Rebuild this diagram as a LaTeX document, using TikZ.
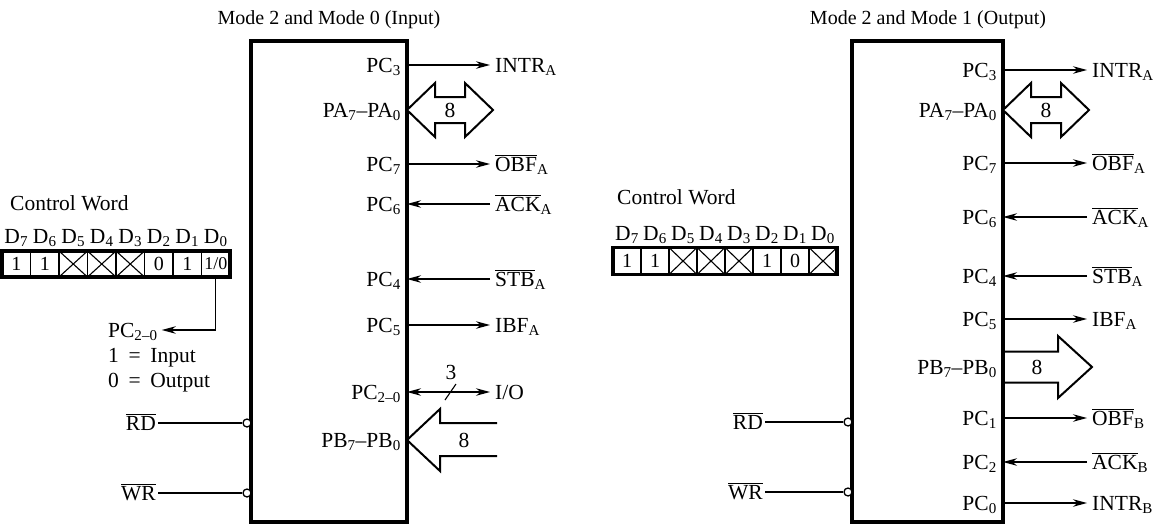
\documentclass[tikz,border=0pt]{standalone}
\usepackage{fontspec}
\setmainfont{Liberation Serif}
\usetikzlibrary{arrows.meta}
\newcommand{\ovl}[1]{$\overline{\mbox{#1}}$}
\newcommand{\sbs}[1]{\textsubscript{#1}}
\begin{document}
\begin{tikzpicture}[x=1pt,y=-1pt,
  every node/.style={font=\fontsize{21.5}{24}\selectfont, inner sep=2pt},
  titlefont/.style={font=\fontsize{20}{24}\selectfont},
  chip/.style={draw, line width=3.4pt, inner sep=0pt, outer sep=0pt},
  pin/.style={anchor=base east},
  ext/.style={anchor=base west, inner xsep=5pt},
  sig/.style={line width=1.1pt, -{Stealth[length=14pt,width=7.5pt]}},
  sigboth/.style={line width=1.1pt, {Stealth[length=14pt,width=7.5pt]}-{Stealth[length=14pt,width=7.5pt]}},
  wire/.style={line width=1.1pt},
  bus/.style={line width=2pt, fill=white, line join=miter},
  bub/.style={circle, draw, line width=1.3pt, fill=white, inner sep=0pt, minimum size=8pt},
  cellbox/.style={draw, line width=1.1pt, inner sep=0pt, outer sep=0pt},
  regframe/.style={line width=3.4pt},
  digit/.style={font=\fontsize{20}{22}\selectfont}
]
\useasboundingbox (0,0) rectangle (1167,525);

% ================= LEFT: Mode 2 and Mode 0 (Input) =================
\node[titlefont] (titleL) at (329,20) {Mode 2 and Mode 0 (Input)};
\node[chip, minimum width=156pt, minimum height=481pt] (chipL) at (329,281.5) {};

% PC3 -> INTR_A
\coordinate (Lp3) at (407,65);
\node[pin] (Lpc3) at (403,72) {PC\sbs{3}};
\node[ext] (Lintr) at (490,72) {INTR\sbs{A}};
\draw[sig] (Lp3) -- (Lp3 -| Lintr.west);

% PA bus
\node[pin] (Lpa) at (403,117) {PA\sbs{7}--PA\sbs{0}};
\draw[bus] (407,110) -- (435,83) -- (435,97) -- (465,97) -- (465,83) -- (493,110)
  -- (465,137) -- (465,123) -- (435,123) -- (435,137) -- cycle;
\node (Lpa8) at (450,110) {8};

% PC7 -> OBF_A
\coordinate (Lp7) at (407,164);
\node[pin] (Lpc7) at (403,171) {PC\sbs{7}};
\node[ext] (Lobf) at (490,171) {\ovl{OBF}\sbs{A}};
\draw[sig] (Lp7) -- (Lp7 -| Lobf.west);

% PC6 <- ACK_A
\coordinate (Lp6) at (407,204);
\node[pin] (Lpc6) at (403,211) {PC\sbs{6}};
\node[ext] (Lack) at (490,211) {\ovl{ACK}\sbs{A}};
\draw[sig] (Lp6 -| Lack.west) -- (Lp6);

% PC4 <- STB_A
\coordinate (Lp4) at (407,279);
\node[pin] (Lpc4) at (403,286) {PC\sbs{4}};
\node[ext] (Lstb) at (490,286) {\ovl{STB}\sbs{A}};
\draw[sig] (Lp4 -| Lstb.west) -- (Lp4);

% PC5 -> IBF_A
\coordinate (Lp5) at (407,325);
\node[pin] (Lpc5) at (403,332) {PC\sbs{5}};
\node[ext] (Libf) at (490,332) {IBF\sbs{A}};
\draw[sig] (Lp5) -- (Lp5 -| Libf.west);

% PC2-0 <-> I/O
\coordinate (Lp20) at (407,392);
\node[pin] (Lpc20) at (403,399) {PC\sbs{2--0}};
\node[ext] (Lio) at (490,399) {I/O};
\draw[sigboth] (Lp20) -- (Lp20 -| Lio.west);
\draw[wire] (445,400) -- (456,384);
\node (Lthree) at (451,372) {3};

% PB bus (input)
\node[pin] (Lpb) at (403,447) {PB\sbs{7}--PB\sbs{0}};
\draw[bus, fill=none] (497,423) -- (440,423) -- (440,409) -- (407,440) -- (440,471) -- (440,456) -- (497,456);
\node (Lpb8) at (464,440) {8};

% RD, WR
\node[anchor=base east] (Lrd) at (158,430) {\ovl{RD}};
\node[bub] (Lrdb) at (247,423) {};
\draw[wire] (Lrd.east |- Lrdb) -- (Lrdb.west);
\node[anchor=base east] (Lwr) at (158,500) {\ovl{WR}};
\node[bub] (Lwrb) at (247,493) {};
\draw[wire] (Lwr.east |- Lwrb) -- (Lwrb.west);

% Control word (left)
\node[anchor=base west] (Lcw) at (8,210) {Control Word};
\foreach \i in {0,...,7}
  \node[cellbox, minimum width=28.5pt, minimum height=26pt] (lc\i) at ({16.25+28.5*\i},264) {};
\foreach \i/\k in {0/7,1/6,2/5,3/4,4/3,5/2,6/1,7/0}
  \node[anchor=base] (ld\i) at ({16.25+28.5*\i},243) {D\sbs{\k}};
\foreach \i in {2,3,4}
  \draw[wire] (lc\i.north west) -- (lc\i.south east) (lc\i.south west) -- (lc\i.north east);
\node[digit] at (lc0) {1};
\node[digit] at (lc1) {1};
\node[digit] at (lc5) {0};
\node[digit] at (lc6) {1};
\node[font=\fontsize{18}{20}\selectfont, inner sep=0pt] at (lc7) {1/0};
\draw[regframe] (lc0.north west) rectangle (lc7.south east);

\node[anchor=base west, inner xsep=4pt] (Lsel) at (104,337) {PC\sbs{2--0}};
\coordinate (Lsely) at (0,330);
\draw[sig] (lc7.south) |- (Lsel.east |- Lsely);
\node[anchor=base west] (Lin) at (106,362) {1\hspace{0.45em}=\hspace{0.45em}Input};
\node[anchor=base west] (Lout) at (106,387) {0\hspace{0.45em}=\hspace{0.45em}Output};

% ================= RIGHT: Mode 2 and Mode 1 (Output) =================
\node[titlefont] (titleR) at (928,20) {Mode 2 and Mode 1 (Output)};
\node[chip, minimum width=151pt, minimum height=481pt] (chipR) at (927.5,281.5) {};

% PC3 -> INTR_A
\coordinate (Rp3) at (1003,70);
\node[pin] (Rpc3) at (999,77) {PC\sbs{3}};
\node[ext] (Rintr) at (1087,77) {INTR\sbs{A}};
\draw[sig] (Rp3) -- (Rp3 -| Rintr.west);

% PA bus
\node[pin] (Rpa) at (999,117) {PA\sbs{7}--PA\sbs{0}};
\draw[bus] (1003,110) -- (1031,83) -- (1031,97) -- (1061,97) -- (1061,83) -- (1089,110)
  -- (1061,137) -- (1061,123) -- (1031,123) -- (1031,137) -- cycle;
\node (Rpa8) at (1046,110) {8};

% PC7 -> OBF_A
\coordinate (Rp7) at (1003,163);
\node[pin] (Rpc7) at (999,170) {PC\sbs{7}};
\node[ext] (Robf) at (1087,170) {\ovl{OBF}\sbs{A}};
\draw[sig] (Rp7) -- (Rp7 -| Robf.west);

% PC6 <- ACK_A
\coordinate (Rp6) at (1003,217);
\node[pin] (Rpc6) at (999,224) {PC\sbs{6}};
\node[ext] (Rack) at (1087,224) {\ovl{ACK}\sbs{A}};
\draw[sig] (Rp6 -| Rack.west) -- (Rp6);

% PC4 <- STB_A
\coordinate (Rp4) at (1003,276);
\node[pin] (Rpc4) at (999,283) {PC\sbs{4}};
\node[ext] (Rstb) at (1087,283) {\ovl{STB}\sbs{A}};
\draw[sig] (Rp4 -| Rstb.west) -- (Rp4);

% PC5 -> IBF_A
\coordinate (Rp5) at (1003,319);
\node[pin] (Rpc5) at (999,326) {PC\sbs{5}};
\node[ext] (Ribf) at (1087,326) {IBF\sbs{A}};
\draw[sig] (Rp5) -- (Rp5 -| Ribf.west);

% PB bus (output)
\node[pin] (Rpb) at (999,374) {PB\sbs{7}--PB\sbs{0}};
\draw[bus, fill=none] (1003,351.5) -- (1058,351.5) -- (1058,336) -- (1092,367) -- (1058,398) -- (1058,382.5) -- (1003,382.5);
\node (Rpb8) at (1037,367) {8};

% PC1 -> OBF_B
\coordinate (Rp1) at (1003,418);
\node[pin] (Rpc1) at (999,425) {PC\sbs{1}};
\node[ext] (Robfb) at (1087,425) {\ovl{OBF}\sbs{B}};
\draw[sig] (Rp1) -- (Rp1 -| Robfb.west);

% PC2 <- ACK_B
\coordinate (Rp2) at (1003,462);
\node[pin] (Rpc2) at (999,469) {PC\sbs{2}};
\node[ext] (Rackb) at (1087,469) {\ovl{ACK}\sbs{B}};
\draw[sig] (Rp2 -| Rackb.west) -- (Rp2);

% PC0 -> INTR_B
\coordinate (Rp0) at (1003,503);
\node[pin] (Rpc0) at (999,510) {PC\sbs{0}};
\node[ext] (Rintrb) at (1087,510) {INTR\sbs{B}};
\draw[sig] (Rp0) -- (Rp0 -| Rintrb.west);

% RD, WR
\node[anchor=base east] (Rrd) at (765,429) {\ovl{RD}};
\node[bub] (Rrdb) at (848,422) {};
\draw[wire] (Rrd.east |- Rrdb) -- (Rrdb.west);
\node[anchor=base east] (Rwr) at (765,499) {\ovl{WR}};
\node[bub] (Rwrb) at (848,492) {};
\draw[wire] (Rwr.east |- Rwrb) -- (Rwrb.west);

% Control word (right)
\node[anchor=base west] (Rcw) at (615,204) {Control Word};
\foreach \i in {0,...,7}
  \node[cellbox, minimum width=28pt, minimum height=27pt] (rc\i) at ({627+28*\i},261) {};
\foreach \i/\k in {0/7,1/6,2/5,3/4,4/3,5/2,6/1,7/0}
  \node[anchor=base] (rd\i) at ({627+28*\i},240) {D\sbs{\k}};
\foreach \i in {2,3,4,7}
  \draw[wire] (rc\i.north west) -- (rc\i.south east) (rc\i.south west) -- (rc\i.north east);
\node[digit] at (rc0) {1};
\node[digit] at (rc1) {1};
\node[digit] at (rc5) {1};
\node[digit] at (rc6) {0};
\draw[regframe] (rc0.north west) rectangle (rc7.south east);

\end{tikzpicture}
\end{document}
